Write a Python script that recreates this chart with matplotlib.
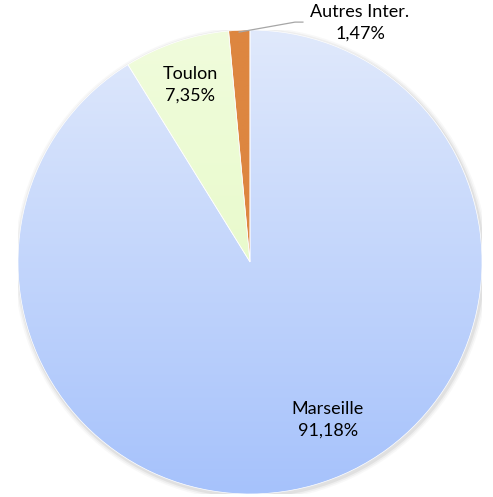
import numpy as np
import matplotlib
matplotlib.use("Agg")
import matplotlib.pyplot as plt
from matplotlib.colors import LinearSegmentedColormap
from matplotlib.patches import Circle

plt.rcParams['font.family'] = ['Lato', 'DejaVu Sans']

labels = ['Marseille', 'Toulon', 'Autres Inter.']
values = [91.18, 7.35, 1.47]
pct_text = ['91,18%', '7,35%', '1,47%']

# gradient colours (top, bottom) for each slice
grad_colors = [('#e0e9fc', '#a6c2fb'), ('#f0fcdc', '#e2f9bd'), ('#dd8640', '#dd8640')]

fig = plt.figure(figsize=(4.93, 4.97), dpi=100)
R = 232
ax = fig.add_axes([(250 - R) / 493, (497 - 262 - R) / 497, 2 * R / 493, 2 * R / 497])
ax.set_xlim(-1, 1)
ax.set_ylim(-1, 1)
ax.set_aspect('equal')
ax.axis('off')

# soft shadow
for i, a in enumerate([0.05, 0.08, 0.12]):
    sh = Circle((0.005, -0.008), 1.0 + 0.007 * (3 - i), color='gray', alpha=a, lw=0, zorder=0)
    ax.add_patch(sh)

wedges, _ = ax.pie(values, startangle=90, counterclock=False, radius=1,
                   wedgeprops=dict(linewidth=0.5, edgecolor='white'))

grad = np.linspace(0, 1, 256).reshape(-1, 1)
for w, (c1, c2) in zip(wedges, grad_colors):
    w.set_facecolor('none')
    cmap = LinearSegmentedColormap.from_list('g', [c1, c2])
    im = ax.imshow(grad, cmap=cmap, extent=[-1, 1, -1, 1], origin='upper',
                   aspect='auto', zorder=1, interpolation='bilinear')
    im.set_clip_path(w)
    w.set_zorder(2)
ax.set_xlim(-1, 1)
ax.set_ylim(-1, 1)

fs = 13
ls = 1.45
ax.text(0.336, -0.681, labels[0] + '\n' + pct_text[0], ha='center', va='center',
        fontsize=fs, linespacing=ls, zorder=5)
ax.text(-0.259, 0.763, labels[1] + '\n' + pct_text[1], ha='center', va='center',
        fontsize=fs, linespacing=ls, zorder=5)
ax.text(0.474, 1.03, labels[2] + '\n' + pct_text[2], ha='center', va='center',
        fontsize=fs, linespacing=ls, zorder=5, clip_on=False)
ax.plot([-0.047, 0.194, 0.228], [0.991, 1.034, 1.034], color='#a6a6a6', lw=0.9,
        clip_on=False, zorder=5)

fig.savefig('out.png', dpi=100)
